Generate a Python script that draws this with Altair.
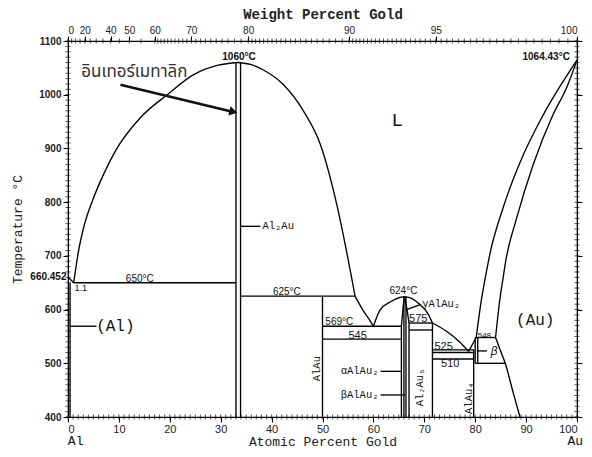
import json
import altair as alt
import pandas as pd
import numpy as np

# ---------------- data (atomic % Au, temperature °C) ----------------
AL_MELT_X = [0.0, 1.1]
AL_MELT_T = [660.452, 650]

AL_LIQ_X = [1.1, 1.4, 1.9, 3.0, 4.9, 6.8, 9.3, 14.2, 19.5, 24.6, 29.5, 33.4]
AL_LIQ_T = [650, 668, 700, 750, 805, 848, 895, 957, 1000, 1037, 1055, 1060]

AL2AU_R_X = [33.4, 36.0, 38.4, 42.4, 46.3, 49.6, 52.8, 56.4]
AL2AU_R_T = [1060, 1056, 1046, 1018, 969, 907, 796, 625]

EUT1_X = [56.4, 58.0, 59.3, 60.0]
EUT1_T = [625, 598, 580, 569]

ALAU2_L_X = [60.0, 61.3, 63.3, 65.0, 66.1]
ALAU2_L_T = [569, 599, 614, 622, 624]

ALAU2_R_X = [66.1, 67.5, 69.4, 70.8, 71.6]
ALAU2_R_T = [624, 621, 607, 591, 575]

EUT2_X = [71.6, 74.3, 77.0, 78.7]
EUT2_T = [575, 560, 539, 522]

V_ARM_X = [78.7, 79.8, 80.2]
V_ARM_T = [522, 541, 548]

AU_LIQ_X = [80.2, 81.3, 82.0, 82.9, 85.5, 89.5, 93.4, 100.0]
AU_LIQ_T = [548, 623, 660, 704, 790, 889, 963, 1064.43]

AU_SOL_X = [84.0, 84.9, 85.5, 85.9, 88.2, 91.4, 95.3, 98.0, 100.0]
AU_SOL_T = [548, 623, 660, 685, 772, 870, 963, 1014, 1064.43]

AU_SOLVUS_X = [84.0, 84.9, 85.9, 87.5, 88.8]
AU_SOLVUS_T = [548, 525, 500, 444, 400]

GAMMA_L_X = [65.5, 65.7, 65.9, 66.1]
GAMMA_L_T = [569, 590, 610, 624]

GAMMA_R_X = [66.1, 66.6, 67.0]
GAMMA_R_T = [624, 600, 575]

# horizontal invariant / boundary lines
H_T = [650, 625, 569, 545, 575, 562, 525, 520, 508, 548, 500]
H_X1 = [1.1, 33.9, 50.0, 50.0, 67.0, 67.0, 71.6, 71.6, 71.6, 80.0, 80.0]
H_X2 = [33.0, 56.4, 65.5, 65.5, 71.6, 71.6, 79.8, 79.8, 79.7, 84.0, 85.9]

# vertical compound / boundary lines
V_X = [0.4, 33.0, 33.9, 50.0, 65.5, 66.0, 66.4, 67.0, 71.6, 79.7, 80.0, 80.5]
V_T1 = [400, 400, 400, 400, 400, 400, 400, 400, 400, 400, 500, 500]
V_T2 = [650, 1060, 1060, 625, 569, 624, 624, 575, 575, 525, 548, 548]

# leader lines from labels
LEAD_X1 = [0.5, 33.9, 61.4, 61.4, 69.2, 80.3]
LEAD_T1 = [569, 755, 485, 441, 609, 523]
LEAD_X2 = [5.6, 37.8, 65.5, 66.2, 66.5, 82.3]
LEAD_T2 = [569, 755, 485, 441, 600, 523]

# Thai annotation arrow
ARROW_X = [10.3, 32.5]
ARROW_T = [1018.5, 968]

# top axis: weight percent gold
M_AU, M_AL = 196.967, 26.982
TOP_W_MAJOR = [0, 20, 40, 50, 60, 70, 80, 90, 95, 100]
TOP_W_MINOR = (list(range(0, 60, 5)) + list(range(60, 80, 1))
               + [80 + 0.5 * i for i in range(20)] + [90 + 0.25 * i for i in range(41)])

# texts
BOLD_TXT = ["1060°C", "1064.43°C", "660.452"]
BOLD_X = [33.6, 98.6, -0.3]
BOLD_T = [1070, 1070, 660]
BOLD_ALIGN = ["center", "right", "right"]

SMALL_TXT = ["650°C", "625°C", "569°C", "624°C", "1.1", "548"]
SMALL_X = [14.1, 43.0, 53.3, 65.9, 1.3, 81.8]
SMALL_T = [657, 632, 577, 634, 640, 550]
SMALL_SIZE = [10, 10, 10, 10, 9, 8]

NUM_TXT = ["575", "545", "525", "510"]
NUM_X = [68.8, 56.9, 73.8, 75.1]
NUM_T = [582, 551, 531, 499]

PHASE_TXT = ["αAlAu₂", "βAlAu₂", "γAlAu₂", "Al₂Au", "β"]
PHASE_X = [61.0, 61.0, 69.6, 38.2, 83.0]
PHASE_T = [485, 441, 611, 755, 522]
PHASE_ALIGN = ["right", "right", "left", "left", "left"]

ROT_TXT = ["AlAu", "Al₂Au₅", "AlAu₄"]
ROT_X = [48.9, 69.1, 78.7]
ROT_T = [490, 455, 435]

BIG_TXT = ["(Al)", "(Au)", "L"]
BIG_X = [9.3, 91.8, 64.7]
BIG_T = [570, 580, 952]
BIG_SIZE = [16, 16, 19]

END_TXT = ["Al", "Au"]
END_X = [1.5, 101.2]
END_T = [356, 356]
END_ALIGN = ["center", "right"]

THAI_TXT = ["อินเทอร์เมทาลิก"]
THAI_X = [2.6]
THAI_T = [1043]

SANS = "Liberation Sans"
MONO = "Liberation Mono"


def to_at(w):
    a = w / M_AU
    b = (100 - w) / M_AL
    return round(100 * a / (a + b), 3)


# ---------------- build tables ----------------
curves = [
    (AL_MELT_X, AL_MELT_T), (AL_LIQ_X, AL_LIQ_T), (AL2AU_R_X, AL2AU_R_T),
    (EUT1_X, EUT1_T), (ALAU2_L_X, ALAU2_L_T), (ALAU2_R_X, ALAU2_R_T),
    (EUT2_X, EUT2_T), (V_ARM_X, V_ARM_T), (AU_LIQ_X, AU_LIQ_T),
    (AU_SOL_X, AU_SOL_T), (AU_SOLVUS_X, AU_SOLVUS_T),
    (GAMMA_L_X, GAMMA_L_T), (GAMMA_R_X, GAMMA_R_T),
]
rows = []
for k, (xs, ts) in enumerate(curves):
    for i, (xv, tv) in enumerate(zip(xs, ts)):
        rows.append({"seg": f"c{k}", "i": i, "x": xv, "T": tv})
curve_df = pd.DataFrame(rows)

rows = []
for k, (t, a, b) in enumerate(zip(H_T, H_X1, H_X2)):
    rows += [{"seg": f"h{k}", "i": 0, "x": a, "T": t}, {"seg": f"h{k}", "i": 1, "x": b, "T": t}]
for k, (xv, a, b) in enumerate(zip(V_X, V_T1, V_T2)):
    rows += [{"seg": f"v{k}", "i": 0, "x": xv, "T": a}, {"seg": f"v{k}", "i": 1, "x": xv, "T": b}]
for k, (a, b, c, d) in enumerate(zip(LEAD_X1, LEAD_T1, LEAD_X2, LEAD_T2)):
    rows += [{"seg": f"l{k}", "i": 0, "x": a, "T": b}, {"seg": f"l{k}", "i": 1, "x": c, "T": d}]
straight_df = pd.DataFrame(rows)

arrow_df = pd.DataFrame({"x": ARROW_X, "T": ARROW_T, "i": [0, 1]})
head_df = pd.DataFrame({"x": ARROW_X[-1:], "T": ARROW_T[-1:]})

top_major = [to_at(w) for w in TOP_W_MAJOR]
top_label_expr = (json.dumps([str(w) for w in TOP_W_MAJOR]) + "[indexof(" + json.dumps(top_major)
                  + ", datum.value)]")
top_minor_df = pd.DataFrame({"x": [to_at(w) for w in TOP_W_MINOR], "T": 1100})
bottom_minor_df = pd.DataFrame({"x": list(range(0, 101)), "T": 400})
left_minor_df = pd.DataFrame({"x": 0, "T": list(range(400, 1101, 10))})
right_minor_df = pd.DataFrame({"x": 100, "T": list(range(400, 1101, 10))})

XS = alt.Scale(domain=[0, 100], nice=False, zero=False)
YS = alt.Scale(domain=[400, 1100], nice=False, zero=False)
NOX = alt.X("x:Q", axis=None)
NOY = alt.Y("T:Q", axis=None)

# ---------------- layers ----------------
base = alt.Chart(straight_df).mark_line(color="black", strokeWidth=1.35).encode(
    x=alt.X("x:Q", scale=XS, axis=alt.Axis(
        values=list(range(0, 101, 10)), format="d", title="Atomic Percent Gold", orient="bottom",
        labelFont=SANS, labelFontSize=11, labelColor="#222", labelPadding=1,
        tickSize=5, tickColor="black", domainColor="black", grid=False,
        titleFont=MONO, titleFontSize=13, titleFontWeight="normal", titlePadding=1,
        titleColor="#222")),
    y=alt.Y("T:Q", scale=YS, axis=alt.Axis(
        values=list(range(400, 1101, 100)), format="d", title="Temperature °C", orient="left",
        labelFont=SANS, labelFontSize=10, labelFontWeight="bold", labelColor="#222",
        labelPadding=2, tickSize=5, tickColor="black", domainColor="black", grid=False,
        titleFont=MONO, titleFontSize=13, titleFontWeight="normal", titlePadding=14,
        titleColor="#222")),
    detail="seg:N", order="i:Q",
)

curves_layer = alt.Chart(curve_df).mark_line(
    color="black", strokeWidth=1.35, interpolate="monotone").encode(
    x=NOX, y=NOY, detail="seg:N", order="i:Q")

top_layer = alt.Chart(top_minor_df).mark_tick(
    orient="vertical", size=5, thickness=1, color="black").encode(
    x=alt.X("x:Q", axis=alt.Axis(
        orient="top", values=top_major, labelExpr=top_label_expr,
        title="Weight Percent Gold", labelFont=SANS, labelFontSize=10,
        labelColor="#222", labelPadding=1, tickSize=5, tickColor="black",
        domainColor="black", grid=False, labelOverlap=False,
        titleFont=MONO, titleFontSize=14, titleFontWeight="bold", titlePadding=4,
        titleColor="#222")),
    y=NOY)

right_layer = alt.Chart(right_minor_df).mark_tick(
    orient="horizontal", size=5, thickness=1, color="black").encode(
    x=NOX,
    y=alt.Y("T:Q", axis=alt.Axis(
        orient="right", values=list(range(400, 1101, 100)), labels=False, title=None,
        tickSize=5, tickColor="black", domainColor="black", grid=False)))

bottom_ticks = alt.Chart(bottom_minor_df).mark_tick(
    orient="vertical", size=5, thickness=1, color="black").encode(x=NOX, y=NOY)
left_ticks = alt.Chart(left_minor_df).mark_tick(
    orient="horizontal", size=5, thickness=1, color="black").encode(x=NOX, y=NOY)

arrow_line = alt.Chart(arrow_df).mark_line(color="#111", strokeWidth=2.6).encode(
    x=NOX, y=NOY, order="i:Q")
arrow_head = alt.Chart(head_df).mark_point(
    shape="triangle-right", filled=True, size=90, angle=13.5, color="#111", opacity=1).encode(
    x=NOX, y=NOY)


def text_layer(df, **kw):
    enc = dict(x=NOX, y=NOY, text="s:N")
    return alt.Chart(df).mark_text(color="#111", baseline="middle", **kw).encode(**enc)


bold_layers = [text_layer(pd.DataFrame({"x": [x], "T": [t], "s": [s]}),
                          font=SANS, fontSize=10, fontWeight="bold", align=al)
               for s, x, t, al in zip(BOLD_TXT, BOLD_X, BOLD_T, BOLD_ALIGN)]
small_layers = [text_layer(pd.DataFrame({"x": [x], "T": [t], "s": [s]}),
                           font=SANS, fontSize=fs, align="left" if s == "1.1" else "center")
                for s, x, t, fs in zip(SMALL_TXT, SMALL_X, SMALL_T, SMALL_SIZE)]
num_layer = text_layer(pd.DataFrame({"x": NUM_X, "T": NUM_T, "s": NUM_TXT}),
                       font=SANS, fontSize=11, align="center")
phase_layers = [text_layer(pd.DataFrame({"x": [x], "T": [t], "s": [s]}),
                           font=MONO, fontSize=12 if s == "β" else 10.5, align=al,
                           fontStyle="italic" if s == "β" else "normal")
                for s, x, t, al in zip(PHASE_TXT, PHASE_X, PHASE_T, PHASE_ALIGN)]
rot_layer = text_layer(pd.DataFrame({"x": ROT_X, "T": ROT_T, "s": ROT_TXT}),
                       font=MONO, fontSize=10.5, align="center", angle=270)
big_layers = [text_layer(pd.DataFrame({"x": [x], "T": [t], "s": [s]}),
                         font=MONO, fontSize=fs, align="center")
              for s, x, t, fs in zip(BIG_TXT, BIG_X, BIG_T, BIG_SIZE)]
end_layers = [text_layer(pd.DataFrame({"x": [x], "T": [t], "s": [s]}),
                         font=MONO, fontSize=13, align=al)
              for s, x, t, al in zip(END_TXT, END_X, END_T, END_ALIGN)]
thai_layer = alt.Chart(pd.DataFrame({"x": THAI_X, "T": THAI_T, "s": THAI_TXT})).mark_text(
    font="Noto Sans Thai, Noto Sans, DejaVu Sans, sans-serif", fontSize=17, color="#333",
    align="left", baseline="middle").encode(x=NOX, y=NOY, text="s:N")

chart = alt.layer(
    base, curves_layer, top_layer, right_layer, bottom_ticks, left_ticks,
    arrow_line, arrow_head, *bold_layers, *small_layers, num_layer, *phase_layers,
    rot_layer, *big_layers, *end_layers, thai_layer,
).resolve_axis(x="independent", y="independent").properties(
    width=509, height=376,
    padding={"left": 60, "top": 33, "right": 7, "bottom": 32},
    autosize=alt.AutoSizeParams(type="none"),
    background="white",
).configure_view(stroke="black", strokeWidth=1.2)

chart.save("out.html", embed_options={"renderer": "svg", "actions": False})
